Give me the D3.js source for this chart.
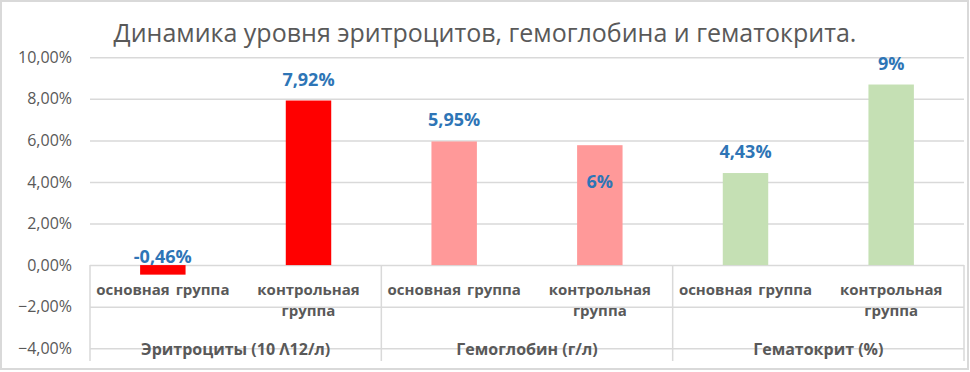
<!DOCTYPE html>
<head>
    <meta charset="utf-8">
    <script src="https://d3js.org/d3.v7.min.js"></script>
    <style>
        body { margin: 0; background: #fff; }
        svg { display: block; }
        text { font-family: "Open Sans", "Noto Sans", sans-serif; }
    </style>
</head>
<body>
    <svg></svg>
    <script>
        // chart data
        var title = "Динамика уровня эритроцитов, гемоглобина и гематокрита.";
        var groups = ["Эритроциты (10 Λ12/л)", "Гемоглобин (г/л)", "Гематокрит (%)"];
        var subgroups = [["основная группа"], ["контрольная", "группа"]];
        var values = [-0.46, 7.92, 5.95, 5.77, 4.43, 8.69];
        var valueLabels = ["-0,46%", "7,92%", "5,95%", "6%", "4,43%", "9%"];
        var yTicks = [-4, -2, 0, 2, 4, 6, 8, 10];

        var W = 970, H = 372;
        var plot = { left: 90, right: 964, top: 57.3, bottom: 348.2 };

        var barColors = ["#ff0000", "#ff0000", "#ff9999", "#ff9999", "#c5e0b4", "#c5e0b4"];
        // labels that were dragged by hand in the original chart
        var labelShift = [13, 0, 0, 58, 0, 0];

        var svg = d3.select("svg")
            .attr("width", W)
            .attr("height", H);

        // outer frame
        svg.append("rect")
            .attr("x", 1).attr("y", 1)
            .attr("width", W - 3).attr("height", H - 4)
            .attr("fill", "#fff")
            .attr("stroke", "#d9d9d9")
            .attr("stroke-width", 2);

        // one key per bar
        var keys = [];
        groups.forEach(function (g, gi) {
            subgroups.forEach(function (s, si) { keys.push(gi + "-" + si); });
        });

        var x = d3.scaleBand()
            .domain(keys)
            .range([plot.left, plot.right])
            .paddingInner(0.688)
            .paddingOuter(0.344);
        var xCat = d3.scaleBand()
            .domain(keys)
            .range([plot.left, plot.right]);
        var xGroup = d3.scaleBand()
            .domain(groups)
            .range([plot.left, plot.right]);

        var y = d3.scaleLinear()
            .domain([-4, 10])
            .range([plot.bottom, plot.top]);

        var ru = d3.formatLocale({ decimal: ",", thousands: " ", grouping: [3], currency: ["", ""] });
        var fmt = ru.format(".2f");

        // gridlines + tick labels
        var yAxis = svg.append("g")
            .attr("transform", "translate(" + plot.left + ",0)")
            .call(d3.axisLeft(y)
                .tickValues(yTicks)
                .tickSize(-(plot.right - plot.left))
                .tickPadding(18)
                .tickFormat(function (d) { return fmt(d) + "%"; }));
        yAxis.select(".domain").remove();
        yAxis.selectAll(".tick line")
            .attr("stroke", "#d9d9d9")
            .attr("stroke-width", 1.5);
        yAxis.selectAll(".tick text")
            .attr("fill", "#595959")
            .style("font-size", "16px")
            .style("font-family", "'Open Sans', sans-serif");

        // group separators of the category axis
        svg.append("g")
            .selectAll("line")
            .data(groups.map(function (g) { return xGroup(g); }).concat([plot.right]))
            .enter().append("line")
            .attr("x1", function (d) { return d; })
            .attr("x2", function (d) { return d; })
            .attr("y1", y(0))
            .attr("y2", 361)
            .attr("stroke", "#d9d9d9")
            .attr("stroke-width", 1.5);

        // bars
        svg.append("g")
            .selectAll("rect")
            .data(values)
            .enter().append("rect")
            .attr("x", function (d, i) { return x(keys[i]); })
            .attr("width", x.bandwidth())
            .attr("y", function (d) { return y(Math.max(d, 0)); })
            .attr("height", function (d) { return Math.abs(y(d) - y(0)); })
            .attr("fill", function (d, i) { return barColors[i]; });

        // value labels
        svg.append("g")
            .selectAll("text")
            .data(values)
            .enter().append("text")
            .attr("x", function (d, i) { return x(keys[i]) + x.bandwidth() / 2; })
            .attr("y", function (d, i) { return y(Math.max(d, 0)) - 15 + labelShift[i]; })
            .attr("text-anchor", "middle")
            .attr("fill", "#2e75b6")
            .style("font-size", "18px")
            .style("font-weight", "bold")
            .text(function (d, i) { return valueLabels[i]; });

        // sub-category labels
        var sub = svg.append("g")
            .selectAll("text")
            .data(keys)
            .enter().append("text")
            .attr("x", function (d) { return xCat(d) + xCat.bandwidth() / 2; })
            .attr("y", 295)
            .attr("text-anchor", "middle")
            .attr("fill", "#595959")
            .style("font-size", "15px")
            .style("font-weight", "bold")
            .style("word-spacing", "2px");
        sub.each(function (d, i) {
            var lines = subgroups[i % subgroups.length];
            var t = d3.select(this);
            lines.forEach(function (l, li) {
                t.append("tspan")
                    .attr("x", t.attr("x"))
                    .attr("dy", li === 0 ? 0 : 21)
                    .text(l);
            });
        });

        // group labels
        svg.append("g")
            .selectAll("text")
            .data(groups)
            .enter().append("text")
            .attr("x", function (d) { return xGroup(d) + xGroup.bandwidth() / 2; })
            .attr("y", 355)
            .attr("text-anchor", "middle")
            .attr("fill", "#595959")
            .style("font-size", "16px")
            .style("font-weight", "bold")
            .text(function (d) { return d; });

        // title
        svg.append("text")
            .attr("x", W / 2)
            .attr("y", 42)
            .attr("text-anchor", "middle")
            .attr("fill", "#595959")
            .style("font-size", "25px")
            .text(title);
    </script>
</body>
